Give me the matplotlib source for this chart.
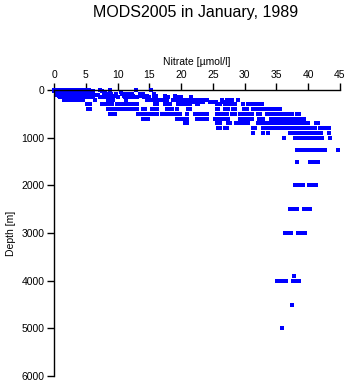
import matplotlib
matplotlib.use("Agg")
import matplotlib.pyplot as plt

plt.rcParams["font.family"] = ["Liberation Sans", "DejaVu Sans"]

# Nitrate [umol/l] observed at each standard depth level [m]
no3_0000 = [0.0, 0.5, 1.0, 1.5, 2.0, 2.5, 3.0, 3.5, 4.0, 4.5, 5.0, 5.5, 7.2, 8.8, 12.9, 15.3]
no3_0010 = [0.1, 0.6, 1.1, 1.6, 2.1, 2.6, 3.1, 3.6, 4.1, 4.6, 5.1]
no3_0020 = [0.2, 0.7, 1.2, 1.7, 2.2, 2.7, 3.2, 3.7, 4.2, 4.7, 5.2, 5.6, 6.2]
no3_0030 = [0.0, 0.4, 0.9, 1.4, 1.9, 2.4, 2.9, 3.4, 3.9, 4.4, 4.9, 7.5]
no3_0050 = [0.3, 0.8, 1.3, 1.8, 2.3, 2.8, 3.3, 3.8, 4.3, 4.8, 5.3, 5.8, 6.0, 8.0, 10.5]
no3_0075 = [0.4, 0.9, 1.4, 1.9, 2.4, 2.9, 3.4, 3.9, 4.4, 4.9, 5.4, 7.9, 8.5, 9.0, 9.7,
            10.7, 11.2, 11.6, 12.3, 13.5, 14.0, 15.7]
no3_0100 = [0.5, 1.0, 1.5, 2.0, 2.5, 3.0, 3.5, 4.0, 4.5, 5.0, 5.5, 6.0, 6.5, 7.0, 12.0]
no3_0125 = [0.8, 1.3, 1.8, 2.3, 2.8, 3.3, 3.8, 4.3, 4.8, 5.3, 5.8, 6.2, 9.6, 11.0, 11.5,
            12.0, 12.4, 13.6, 14.6, 16.0, 17.5, 19.0]
no3_0150 = [1.0, 1.5, 2.0, 2.5, 3.0, 3.5, 4.0, 4.5, 5.0, 5.5, 6.0, 7.2, 7.6, 8.0, 8.5, 8.9,
            9.3, 10.0, 11.2, 11.7, 12.2, 12.7, 13.1, 14.1, 14.9, 15.7, 18.0, 19.0, 19.5,
            20.0, 21.5]
no3_0200 = [1.5, 2.0, 2.5, 3.0, 3.5, 4.0, 4.5, 6.5, 8.5, 8.9, 9.3, 11.3, 14.6, 15.0, 15.4,
            15.8, 16.2, 16.7, 17.1, 17.8, 18.7, 19.1, 19.5, 20.0, 20.5, 21.0, 21.5, 22.2,
            22.6, 23.0, 23.4, 24.1, 26.4, 27.2, 27.6, 28.0, 29.0]
no3_0250 = [22.0, 22.5, 23.0, 23.5, 24.5, 25.0, 25.5, 26.5, 27.0, 27.5, 28.0]
no3_0300 = [5.2, 5.7, 7.5, 7.9, 8.3, 8.7, 9.1, 9.9, 10.4, 10.9, 11.5, 12.0, 12.4, 12.8,
            13.1, 15.9, 16.2, 17.5, 17.9, 18.3, 19.5, 19.9, 20.3, 20.9, 21.4, 22.5, 22.7,
            25.6, 26.1, 26.9, 27.4, 28.0, 28.5, 29.7, 30.5, 31.0, 31.5, 32.1, 32.7]
no3_0400 = [5.3, 5.7, 8.5, 8.8, 9.3, 9.6, 9.9, 10.4, 10.9, 11.4, 11.9, 12.4, 12.7, 13.1,
            14.0, 14.3, 15.4, 15.8, 16.2, 17.8, 18.2, 18.6, 19.4, 21.1, 21.4, 25.6, 25.8,
            26.9, 27.2, 27.4, 28.2, 28.5, 29.9, 30.4, 31.3, 31.7, 32.1, 32.7, 33.1, 33.5,
            34.1, 34.6, 35.1, 35.6]
no3_0500 = [8.8, 9.2, 9.6, 13.2, 13.6, 14.0, 14.3, 14.8, 15.1, 15.6, 16.2, 17.0, 17.4,
            17.8, 18.2, 18.7, 19.4, 19.8, 21.0, 22.2, 22.5, 23.0, 23.5, 24.1, 25.6, 26.0,
            26.4, 26.8, 27.2, 28.0, 28.5, 29.3, 29.7, 30.1, 30.5, 30.8, 31.2, 32.1, 32.4,
            33.5, 34.0, 34.3, 34.8, 35.3, 35.8, 36.3, 36.8, 37.4, 38.2, 38.5]
no3_0600 = [14.0, 14.4, 14.8, 19.4, 19.8, 20.1, 20.6, 20.9, 22.5, 23.0, 23.5, 24.1, 25.3,
            25.8, 26.3, 26.8, 27.4, 29.3, 29.7, 30.1, 30.5, 31.0, 31.2, 32.3, 32.6, 32.9,
            34.1, 34.6, 35.1, 35.6, 36.1, 36.6, 37.1, 37.6, 38.1, 38.7, 39.0, 39.3]
no3_0700 = [20.6, 20.9, 25.6, 26.1, 27.4, 27.7, 28.6, 29.1, 29.6, 30.0, 30.5, 32.1, 32.6,
            33.1, 33.6, 34.1, 34.6, 35.2, 35.6, 35.9, 36.4, 36.9, 37.4, 37.9, 38.2, 38.5,
            39.0, 39.5, 40.0, 41.2, 41.5]
no3_0800 = [25.8, 26.1, 26.9, 27.2, 31.3, 31.7, 32.9, 33.3, 33.8, 34.3, 34.8, 35.3, 35.8,
            36.3, 36.7, 37.1, 37.4, 37.9, 38.4, 38.9, 39.4, 39.9, 40.4, 41.0, 41.8, 42.3,
            42.7, 43.2]
no3_0900 = [31.3, 32.9, 33.7, 37.1, 37.6, 38.1, 38.6, 39.1, 39.6, 40.1, 40.6, 41.1, 41.5,
            42.0, 43.3]
no3_1000 = [36.2, 37.9, 38.4, 38.9, 39.4, 39.9, 40.4, 40.9, 41.4, 41.7, 42.2, 43.4]
no3_1250 = [38.2, 38.7, 39.2, 39.7, 40.2, 40.7, 41.2, 41.7, 42.2, 42.6, 44.7]
no3_1500 = [38.2, 40.3, 40.7, 41.1, 41.5]
no3_2000 = [37.9, 38.3, 38.7, 39.2, 40.1, 40.5, 40.9, 41.2]
no3_2500 = [37.1, 37.5, 37.9, 38.2, 39.3, 39.7, 40.0, 40.3]
no3_3000 = [36.3, 36.7, 37.0, 37.3, 38.4, 38.8, 39.2, 39.5]
no3_3900 = [37.7]
no3_4000 = [35.1, 35.5, 35.9, 36.2, 36.5, 37.6, 38.0, 38.5]
no3_4500 = [37.4]
no3_5000 = [35.8]

levels = [
    (0, no3_0000), (10, no3_0010), (20, no3_0020), (30, no3_0030), (50, no3_0050),
    (75, no3_0075), (100, no3_0100), (125, no3_0125), (150, no3_0150),
    (200, no3_0200), (250, no3_0250), (300, no3_0300), (400, no3_0400),
    (500, no3_0500), (600, no3_0600), (700, no3_0700), (800, no3_0800),
    (900, no3_0900), (1000, no3_1000), (1250, no3_1250), (1500, no3_1500),
    (2000, no3_2000), (2500, no3_2500), (3000, no3_3000), (3900, no3_3900),
    (4000, no3_4000), (4500, no3_4500), (5000, no3_5000),
]

x_ticks = [0, 5, 10, 15, 20, 25, 30, 35, 40, 45]
y_ticks = [0, 1000, 2000, 3000, 4000, 5000, 6000]

fig = plt.figure(figsize=(3.48, 3.84), dpi=100)
ax = fig.add_axes([54 / 348, 8 / 384, 286 / 348, 286 / 384])

for depth, vals in levels:
    ax.plot(vals, [depth] * len(vals), ls="none", marker="s", ms=2.3,
            mew=0, color="#0000ff", clip_on=False)

ax.set_xlim(0, 45)
ax.set_ylim(6000, 0)
ax.set_xticks(x_ticks)
ax.set_yticks(y_ticks)
ax.xaxis.tick_top()
ax.xaxis.set_label_position("top")
ax.tick_params(axis="both", direction="out", length=5, width=1, labelsize=7.5,
               pad=2, colors="black")
for side in ("right", "bottom"):
    ax.spines[side].set_visible(False)
for side in ("left", "top"):
    ax.spines[side].set_linewidth(1)

ax.set_xlabel("Nitrate [\u00b5mol/l]", fontsize=7.5, labelpad=4)
ax.set_ylabel("Depth [m]", fontsize=7.5, labelpad=4)

fig.text(196 / 348, 1 - 12 / 384, "MODS2005 in January, 1989", ha="center",
         va="center", fontsize=11.5)

fig.savefig("out.png", dpi=100)
